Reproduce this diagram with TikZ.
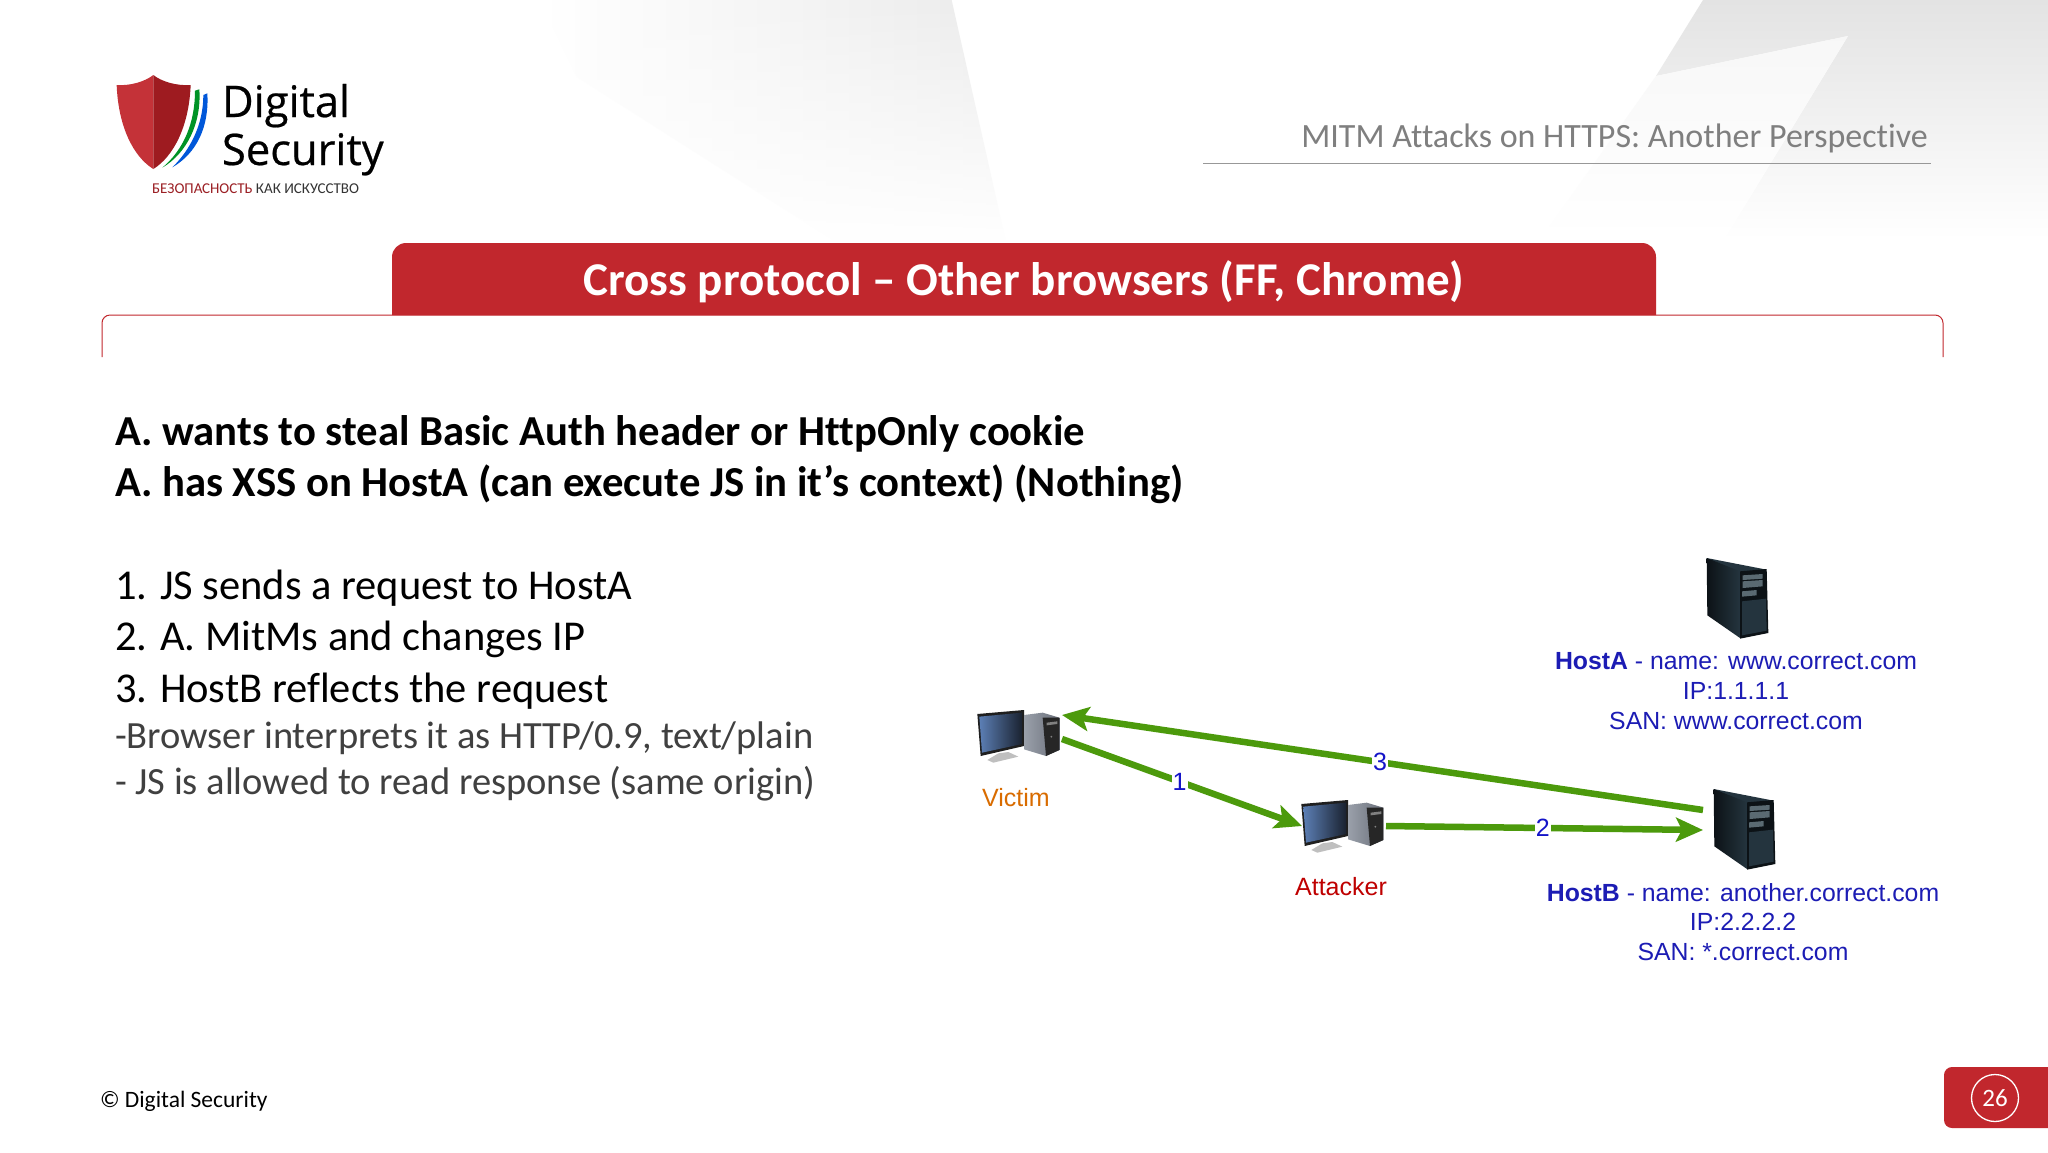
\documentclass[tikz,border=0pt]{standalone}
\usepackage{fontspec}
\setmainfont{Carlito}[Ligatures=NoCommon]
\newfontfamily\logofont{Open Sans}[FakeBold=0.5]
\newfontfamily\diagfont{Liberation Sans}
\usetikzlibrary{arrows.meta,fadings}
\definecolor{brandred}{HTML}{C1272D}
\definecolor{darkred}{HTML}{9E1B20}
\definecolor{flowgreen}{HTML}{4C9A0C}
\definecolor{hostblue}{HTML}{1C1CB4}
\definecolor{numblue}{HTML}{1414C8}
\definecolor{subgray}{HTML}{404040}
\definecolor{headgray}{HTML}{7F7F7F}
\definecolor{screenA}{HTML}{5C7FB5}
\definecolor{screenB}{HTML}{1A2230}
\definecolor{towerA}{HTML}{9AA0AA}
\definecolor{towerB}{HTML}{6A6F7A}
\definecolor{srvA}{HTML}{0C1216}
\definecolor{srvB}{HTML}{24343E}
\definecolor{srvC}{HTML}{5A6A72}
\newcommand{\fsz}[1]{\fontsize{#1}{#1}\selectfont}
\tikzset{
  txt/.style={inner sep=0pt,outer sep=0pt,anchor=base west},
  boldline/.style={txt,font=\fsz{42.7}\bfseries,text=black},
  stepline/.style={txt,font=\fsz{42.5},text=black},
  subline/.style={txt,font=\fsz{38.5},text=subgray},
  anchorbox/.style={inner sep=0pt,outer sep=0pt},
  flow/.style={line width=6.5pt,draw=flowgreen,-{Stealth[length=27pt,width=24pt,inset=6pt]}},
  flownum/.style={fill=white,inner sep=1pt,text=numblue,font=\diagfont\fsz{25}},
  hostlabel/.style={inner sep=0pt,align=center,text=hostblue,font=\diagfont\fsz{24.8}},
}
\newcommand{\pcicon}[1]{%
\begin{scope}[shift={#1},scale=1/3]
  \fill[black!25!white] (145,640) -- (175,636) -- (205,650) -- (130,668) -- (112,660) -- cycle;
  \fill[black!88!white] (82,522) -- (222,510) -- (222,618) -- (92,648) -- cycle;
  \shade[shading angle=70,left color=screenA,right color=screenB]
     (88,530) -- (216,518) -- (216,612) -- (96,638) -- cycle;
  \shade[left color=towerA,right color=towerB] (222,525) -- (278,518) -- (328,533) -- (328,630) -- (288,648) -- (222,628) -- cycle;
  \fill[black!85!white] (278,533) -- (328,533) -- (328,630) -- (288,648) -- cycle;
  \fill[gray] (290,548) -- (322,544) -- (322,552) -- (290,556) -- cycle;
  \fill[gray] (304,590) circle (3);
\end{scope}}
\newcommand{\servericon}[1]{%
\begin{scope}[shift={#1},scale=1/3]
  \fill[srvB] (620,60) -- (800,95) -- (720,108) -- (622,68) -- cycle;
  \shade[left color=srvA,right color=srvB] (620,60) -- (720,100) -- (720,300) -- (622,232) -- cycle;
  \fill[srvA] (720,100) -- (800,93) -- (805,285) -- (720,302) -- cycle;
  \fill[srvC] (728,112) -- (788,108) -- (788,122) -- (728,126) -- cycle;
  \fill[srvC] (728,130) -- (788,126) -- (788,145) -- (728,150) -- cycle;
  \fill[srvC] (726,160) -- (770,156) -- (770,172) -- (726,176) -- cycle;
  \fill[srvB] (726,190) -- (798,182) -- (800,278) -- (726,292) -- cycle;
\end{scope}}
\begin{document}
\begin{tikzpicture}[x=1pt,y=-1pt]
\useasboundingbox (0,0) rectangle (2048,1152);
\fill[white] (0,0) rectangle (2048,1152);
% background facets
\shade[left color=white,right color=black!8,path fading=south] (540,0) -- (952,0) -- (1006,240) -- (833,240) -- (577,77) -- cycle;
\shade[top color=black!11,bottom color=white] (1703,0) -- (2048,0) -- (2048,240) -- (1724,240) -- (1848,36) -- (1656,76) -- cycle;
\shade[top color=black!3,bottom color=white] (1656,76) -- (1848,36) -- (1724,240) -- (1540,240) -- cycle;
% logo
\begin{scope}[shift={(90,50)},scale=1/3]
  \fill[brandred!95!white] (190,75) .. controls (165,95) and (120,108) .. (80,105) .. controls (85,230) and (130,320) .. (190,357) -- cycle;
  \fill[darkred] (190,75) .. controls (215,95) and (260,108) .. (302,105) .. controls (297,230) and (250,320) .. (190,357) -- cycle;
  \fill[green!50!black!85!cyan] (328,118) .. controls (335,220) and (290,310) .. (217,353) .. controls (280,300) and (315,220) .. (315,122) -- cycle;
  \fill[blue!60!cyan!85!black] (352,130) .. controls (358,230) and (320,310) .. (247,352) .. controls (300,300) and (340,225) .. (340,135) -- cycle;
\end{scope}
\node[txt,font=\logofont\fsz{43.5},text=black] (logoa) at (222,117) {Digital};
\node[txt,font=\logofont\fsz{43.5},text=black] (logob) at (222,165) {Security};
\node[txt,font=\fsz{15}] (logoc) at (152,193) {\textcolor{brandred!80!black}{БЕЗОПАСНОСТЬ} \textcolor{black!80}{КАК ИСКУССТВО}};
% header
\node[inner sep=0pt,anchor=base east,font=\fsz{34},text=headgray] (hdr) at (1928,147) {MITM Attacks on HTTPS: Another Perspective};
\coordinate (hdrL) at (1203,163);
\coordinate (hdrR) at (1931,163);
\draw[headgray!80,line width=1pt] (hdrL) -- (hdrR);
% title
\draw[brandred,line width=1pt,rounded corners=8pt] (102,357) -- (102,315) -- (1943,315) -- (1943,357);
\fill[brandred] (392,315) [rounded corners=14pt] -- (392,243) -- (1656,243) [sharp corners] -- (1656,315) -- cycle;
\node[inner sep=0pt,anchor=base,font=\fsz{47}\bfseries,text=white] (title) at (1024,295) {Cross protocol – Other browsers (FF, Chrome)};
% body
\node[boldline] (b1) at (115,445) {A. wants to steal Basic Auth header or HttpOnly cookie};
\node[boldline] (b2) at (115,496) {A. has XSS on HostA (can execute JS in it’s context) (Nothing)};
\node[stepline] (s1) at (115,599) {1. JS sends a request to HostA};
\node[stepline] (s2) at (115,650) {2. A. MitMs and changes IP};
\node[stepline] (s3) at (115,702) {3. HostB reflects the request};
\node[subline] (n1) at (115,748) {-Browser interprets it as HTTP/0.9, text/plain};
\node[subline] (n2) at (115,794) {- JS is allowed to read response (same origin)};
% diagram
\pcicon{(950,540)}
\pcicon{(1274,630)}
\servericon{(1500,538)}
\servericon{(1507,769)}
\node[anchorbox,minimum width=86pt,minimum height=48pt] (victim) at (1019,739) {};
\node[anchorbox,minimum width=84pt,minimum height=56pt] (attacker) at (1344,826) {};
\node[anchorbox,minimum width=77pt,minimum height=40pt] (hostB) at (1741.5,830) {};
\node[anchorbox,minimum width=65pt,minimum height=80pt] (hostA) at (1738,600) {};
\draw[flow] (victim.east) -- node[flownum,pos=.49] (f1) {1} (attacker.west);
\draw[flow] (attacker.east) -- node[flownum,pos=.495] (f2) {2} (hostB.west);
\draw[flow] (hostB.north west) -- node[flownum,pos=.504] (f3) {3} (victim.north east);
\node[inner sep=0pt,font=\diagfont\fsz{25},text=orange!85!black] (vl) at (1016,798) {Victim};
\node[inner sep=0pt,font=\diagfont\fsz{25},text=red!75!black] (al) at (1341,887) {Attacker};
\node[hostlabel] (hal) at (1736,691) {\textbf{HostA} - name: www.correct.com\\[5pt]IP:1.1.1.1\\[5pt]SAN: www.correct.com};
\node[hostlabel] (hbl) at (1743,922) {\textbf{HostB} - name: another.correct.com\\[5pt]IP:2.2.2.2\\[5pt]SAN: *.correct.com};
% footer
\node[txt,font=\fsz{23.5},text=black] (foot) at (100,1107) {© Digital Security};
\fill[brandred] (2048,1128) [rounded corners=8pt] -- (1944,1128) -- (1944,1067) [sharp corners] -- (2048,1067) -- cycle;
\node[circle,draw=white,line width=1.3pt,minimum size=47pt,inner sep=0pt,font=\fsz{25},text=white] (page) at (1995,1098) {26};
\end{tikzpicture}
\end{document}
